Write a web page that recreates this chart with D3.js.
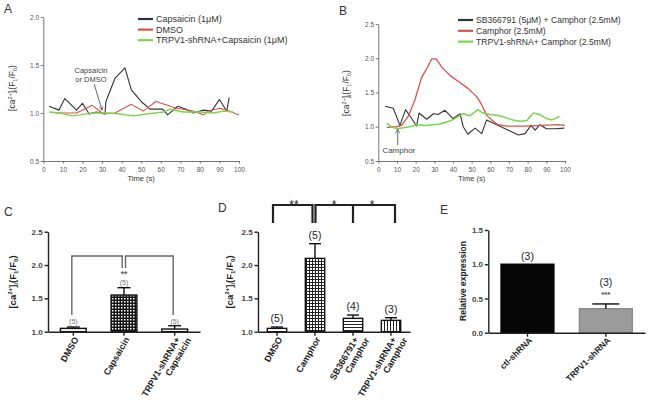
<!DOCTYPE html>
<html><head><meta charset="utf-8">
<script src="https://cdn.jsdelivr.net/npm/d3@7"></script>
<style>body{margin:0;background:#fff}svg{display:block;font-family:Arial,"Liberation Sans",sans-serif}</style>
</head><body><svg id="c" width="651" height="402"></svg>
<script>
// ---------- DATA ----------
const aTicksX = [0,10,20,30,40,50,60,70,80,90,100];
const aTicksY = [0.5,1.0,1.5,2.0];
const bTicksY = [0.5,1.0,1.5,2.0,2.5];
const aSeries = ["Capsaicin (1\u03bcM)","DMSO","TRPV1-shRNA+Capsaicin (1\u03bcM)"];
const aCapsT = [3,8,11,17,20,23.5,27,30,31.5,32,36.6,41.7,45,50,54.5,61,63.5,68.7,73,76.7,81.8,86,90,93.7,95];
const aCapsV = [1.07,1.03,1.15,1.03,1.10,0.99,1.01,1.0,0.99,1.12,1.36,1.47,1.24,1.12,1.04,1.04,0.98,1.07,1.04,1.0,1.03,1.02,1.14,1.02,1.16];
const aDmsoT = [6,17,25,30.7,36.6,45,51,57.6,68,76.7,82,84.3,90,95,100];
const aDmsoV = [1.0,1.0,1.08,0.99,1.0,1.09,1.02,1.12,1.05,1.02,0.98,1.02,1.05,1.02,0.98];
const aShT = [3,8.5,14.5,18.7,24.7,34,39,46,52.8,61.3,64.7,71.6,80,87,92,97];
const aShV = [1.01,1.0,0.97,0.98,1.0,1.0,0.99,0.97,0.99,1.01,1.04,1.01,1.01,1.0,1.02,1.01];

const bSeries = ["SB366791 (5\u03bcM) + Camphor (2.5mM)","Camphor (2.5mM)","TRPV1-shRNA+ Camphor (2.5mM)"];
const bSbT = [3.6,8,11.6,14.6,17.9,20.5,21.8,26,29.5,32,35.7,40,43.8,45.5,48,51.8,55.4,58,64.3,69.6,75,78.6,81.8,84,86.6,90,94.6,99.6];
const bSbV = [1.30,1.27,1.02,1.25,1.12,1.01,1.2,1.11,1.19,1.18,1.24,1.12,1.19,1.0,0.89,0.98,0.9,1.1,1.02,0.95,0.88,0.9,1.02,0.95,1.03,0.97,0.97,0.98];
const bCamT = [4.5,9.8,12.5,16,19.6,23.2,26,28.6,31,34,38.4,42.9,48,52.7,55.4,58,60.7,64,68.8,78.6,87.5,96.4,100];
const bCamV = [0.99,1.0,1.02,1.15,1.39,1.72,1.85,1.99,1.99,1.87,1.75,1.66,1.56,1.44,1.32,1.17,1.1,1.03,1.01,1.01,1.02,1.03,1.02];
const bShT = [4.5,7,10,14,17,21,25.7,29,33,39,45.4,49,53.4,56,59.8,65,72,76,79.5,83,86.5,90,93,97];
const bShV = [1.05,1.0,0.97,0.99,1.0,1.03,1.02,1.03,1.04,1.09,1.19,1.16,1.25,1.2,1.18,1.16,1.1,1.08,1.09,1.2,1.18,1.12,1.1,1.15];

const cTicksY = [1.0,1.5,2.0,2.5];
const cLabels = [["DMSO"],["Capsaicin"],["TRPV1-shRNA+","Capsaicin"]];
const cMeans = [1.05,1.55,1.04];
const cErr = [0.02,0.11,0.05];
const cN = ["(5)","(5)","(5)"];

const dLabels = [["DMSO"],["Camphor"],["SB366791+","Camphor"],["TRPV1-shRNA+","Camphor"]];
const dMeans = [1.05,2.10,1.20,1.17];
const dErr = [0.02,0.22,0.05,0.04];
const dN = ["(5)","(5)","(4)","(3)"];

const eTicksY = [0.0,0.5,1.0,1.5];
const eLabels = ["ctl-shRNA","TRPV1-shRNA"];
const eMeans = [1.0,0.35];
const eErr = [0,0.07];
const eN = ["(3)","(3)"];

// ---------- SETUP ----------
const svg = d3.select("#c");
svg.append("rect").attr("width",651).attr("height",402).attr("fill","#fff");
const defs = svg.append("defs");
let p = defs.append("pattern").attr("id","chk").attr("width",3).attr("height",3).attr("patternUnits","userSpaceOnUse");
p.append("rect").attr("width",3).attr("height",3).attr("fill","#151515");
p.append("rect").attr("x",1).attr("y",1).attr("width",1.5).attr("height",1.5).attr("fill","#fff");
p = defs.append("pattern").attr("id","dots").attr("width",3).attr("height",3).attr("patternUnits","userSpaceOnUse");
p.append("rect").attr("width",3).attr("height",3).attr("fill","#222");
p.append("rect").attr("x",1).attr("y",1).attr("width",2).attr("height",2).attr("fill","#fff");
p = defs.append("pattern").attr("id","hl").attr("width",4).attr("height",3).attr("patternUnits","userSpaceOnUse");
p.append("rect").attr("width",4).attr("height",3).attr("fill","#fff");
p.append("rect").attr("width",4).attr("height",1).attr("fill","#222");
p = defs.append("pattern").attr("id","vl").attr("width",3).attr("height",4).attr("patternUnits","userSpaceOnUse");
p.append("rect").attr("width",3).attr("height",4).attr("fill","#fff");
p.append("rect").attr("width",1).attr("height",4).attr("fill","#222");

function caLabel(x, y, size, weight, color){
  const t = svg.append("text").attr("transform",`translate(${x},${y}) rotate(-90)`)
    .attr("text-anchor","middle").attr("fill",color)
    .style("font-size",size+"px").style("font-weight",weight);
  const s = size*0.65, up = size*0.4, dn = size*0.25;
  t.append("tspan").text("[ca");
  t.append("tspan").attr("dy",-up).style("font-size",s+"px").text("2+");
  t.append("tspan").attr("dy",up).text("]");
  t.append("tspan").attr("dy",dn).style("font-size",s+"px").text("i");
  t.append("tspan").attr("dy",-dn).text("(F");
  t.append("tspan").attr("dy",dn).style("font-size",s+"px").text("1");
  t.append("tspan").attr("dy",-dn).text("/F");
  t.append("tspan").attr("dy",dn).style("font-size",s+"px").text("0");
  t.append("tspan").attr("dy",-dn).text(")");
}
function panelLabel(t,x,y){
  svg.append("text").attr("x",x).attr("y",y).text(t).attr("fill","#333").style("font-size","12px");
}

// ---------- LINE PANELS ----------
function linePanel(cfg){
  const x = d3.scaleLinear().domain([0,100]).range(cfg.xr);
  const y = d3.scaleLinear().domain(cfg.yd).range(cfg.yr);
  const g = svg.append("g");
  const ax = g.append("g").attr("transform",`translate(0,${cfg.yr[0]})`)
    .call(d3.axisBottom(x).tickValues(aTicksX).tickSize(2.5).tickSizeOuter(0));
  const ay = g.append("g").attr("transform",`translate(${cfg.xr[0]},0)`)
    .call(d3.axisLeft(y).tickValues(cfg.yt).tickFormat(d3.format(".1f")).tickSize(2.5).tickSizeOuter(0));
  [ax,ay].forEach(a=>{
    a.selectAll("path,line").attr("stroke","#666").attr("stroke-width",0.9);
    a.selectAll("text").attr("fill","#555").style("font-size","6.5px").style("font-family","Arial,'Liberation Sans',sans-serif");
  });
  ax.selectAll("text").attr("dy","0.9em");
  ay.selectAll("text").attr("dx","0.2em");
  g.append("text").attr("x",(cfg.xr[0]+cfg.xr[1])/2).attr("y",cfg.yr[0]+20).attr("text-anchor","middle")
    .attr("fill","#333").style("font-size","7.5px").text("Time (s)");
  const line = d3.line().x(d=>x(d[0])).y(d=>y(d[1]));
  cfg.series.forEach(s=>{
    g.append("path").datum(d3.zip(s.t,s.v)).attr("d",line).attr("fill","none")
      .attr("stroke",s.c).attr("stroke-width",s.w||1.1).attr("stroke-linejoin","round");
  });
  cfg.names.forEach((n,i)=>{
    const yy = cfg.leg[1] + i*cfg.legStep;
    g.append("line").attr("x1",cfg.leg[0]).attr("x2",cfg.leg[0]+15).attr("y1",yy).attr("y2",yy)
      .attr("stroke",cfg.series[i].c).attr("stroke-width",2.2);
    g.append("text").attr("x",cfg.leg[0]+18).attr("y",yy+3).attr("fill","#333")
      .style("font-size",cfg.legFont+"px").text(n);
  });
  return {x,y,g};
}
const A = linePanel({xr:[43.3,239], yr:[161,17], yd:[0.5,2.0], yt:aTicksY,
  names:aSeries, leg:[138,19], legStep:10.6, legFont:9,
  series:[{t:aCapsT,v:aCapsV,c:"#333"},{t:aDmsoT,v:aDmsoV,c:"#d9524a"},{t:aShT,v:aShV,c:"#77d64f",w:1.4}]});
const B = linePanel({xr:[378.3,565], yr:[161,24], yd:[0.5,2.5], yt:bTicksY,
  names:bSeries, leg:[458,20], legStep:10.8, legFont:8.6,
  series:[{t:bSbT,v:bSbV,c:"#333"},{t:bCamT,v:bCamV,c:"#d9524a",w:1.3},{t:bShT,v:bShV,c:"#77d64f",w:1.5}]});
caLabel(15,88,8.5,"normal","#333");
caLabel(349,93,8.5,"normal","#333");
panelLabel("A",4,13); panelLabel("B",339,15);

// annotations A
svg.append("text").attr("x",91).attr("y",73).attr("text-anchor","middle").attr("fill","#444").style("font-size","7.5px").text("Capsaicin");
svg.append("text").attr("x",91).attr("y",82).attr("text-anchor","middle").attr("fill","#444").style("font-size","7.5px").text("or DMSO");
defs.append("marker").attr("id","arr").attr("viewBox","0 0 10 10").attr("refX",9).attr("refY",5)
  .attr("markerWidth",5).attr("markerHeight",5).attr("orient","auto")
  .append("path").attr("d","M0,0 L10,5 L0,10").attr("fill","none").attr("stroke","#555").attr("stroke-width",1.5);
svg.append("line").attr("x1",A.x(26)).attr("y1",84).attr("x2",A.x(30)).attr("y2",A.y(1.03))
  .attr("stroke","#555").attr("stroke-width",0.9).attr("marker-end","url(#arr)");
// annotation B
svg.append("text").attr("x",B.x(11)).attr("y",153).attr("text-anchor","middle").attr("fill","#444").style("font-size","8px").text("Camphor");
svg.append("line").attr("x1",B.x(10.4)).attr("y1",145).attr("x2",B.x(10.4)).attr("y2",B.y(0.96))
  .attr("stroke","#555").attr("stroke-width",0.9).attr("marker-end","url(#arr)");

// ---------- BAR PANELS ----------
function barPanel(cfg){
  const x = d3.scaleBand().domain(d3.range(cfg.means.length)).range(cfg.xr)
    .paddingInner(cfg.pad).paddingOuter(cfg.pad/2);
  const y = d3.scaleLinear().domain(cfg.yd).range(cfg.yr);
  const g = svg.append("g");
  g.selectAll("rect.bar").data(cfg.means).join("rect").attr("class","bar")
    .attr("x",(d,i)=>x(i)).attr("width",x.bandwidth())
    .attr("y",d=>y(d)).attr("height",d=>y(cfg.yd[0])-y(d))
    .attr("fill",(d,i)=>cfg.fills[i]).attr("stroke",(d,i)=>cfg.strokes?cfg.strokes[i]:"#111").attr("stroke-width",1.4);
  cfg.means.forEach((m,i)=>{
    if(!cfg.err[i]) return;
    const cx = x(i)+x.bandwidth()/2, cw = cfg.cap;
    g.append("line").attr("x1",cx).attr("x2",cx).attr("y1",y(m)).attr("y2",y(m+cfg.err[i])).attr("stroke","#111").attr("stroke-width",1.4);
    g.append("line").attr("x1",cx-cw/2).attr("x2",cx+cw/2).attr("y1",y(m+cfg.err[i])).attr("y2",y(m+cfg.err[i])).attr("stroke","#111").attr("stroke-width",1.4);
  });
  const ax = g.append("g").attr("transform",`translate(0,${cfg.yr[0]})`)
    .call(d3.axisBottom(x).tickFormat("").tickSize(4).tickSizeOuter(0));
  const ay = g.append("g").attr("transform",`translate(${cfg.xr[0]},0)`)
    .call(d3.axisLeft(y).tickValues(cfg.yt).tickFormat(d3.format(".1f")).tickSize(3.5).tickSizeOuter(0));
  [ax,ay].forEach(a=>{
    a.selectAll("path,line").attr("stroke","#222").attr("stroke-width",1.4);
    a.selectAll("text").attr("fill","#444").style("font-size","8px").style("font-weight","bold").style("font-family","Arial,'Liberation Sans',sans-serif");
  });
  ay.selectAll("text").attr("dx","0.15em");
  cfg.labels.forEach((lab,i)=>{
    const cx = x(i)+x.bandwidth()/2;
    const lg = g.append("g").attr("transform",`translate(${cx+3},${cfg.yr[0]+6}) rotate(${cfg.rot})`);
    (Array.isArray(lab)?lab:[lab]).forEach((l,j)=>{
      lg.append("text").attr("x",j?5:0).attr("y",j?cfg.lf*1.45:cfg.lf*0.35)
        .attr("text-anchor","end").attr("fill","#222").style("font-size",cfg.lf+"px").style("font-weight","bold").text(l);
    });
  });
  return {x,y,g,cx:i=>x(i)+x.bandwidth()/2};
}

// C
const C = barPanel({xr:[48,200], pad:0.49, yd:[1.0,2.5], yr:[331.7,231.7], yt:cTicksY,
  means:cMeans, err:cErr, labels:cLabels, fills:["#f2f2f2","url(#chk)","#f4f4f4"], cap:13, rot:-60, lf:9});
cN.forEach((n,i)=>{
  const yy = i===1 ? 285.3 : 324;
  svg.append("text").attr("x",C.cx(i)).attr("y",yy).attr("text-anchor","middle").attr("fill","#777").style("font-size","7px").text(n);
});
svg.append("text").attr("x",C.cx(1)).attr("y",277).attr("text-anchor","middle").attr("fill","#666").style("font-size","8.5px").style("font-weight","bold").text("**");
const brC = d3.path();
brC.moveTo(C.cx(0)-1.5,315); brC.lineTo(C.cx(0)-1.5,256); brC.lineTo(C.cx(1)-1.8,256); brC.lineTo(C.cx(1)-1.8,268);
brC.moveTo(C.cx(1)+1.5,268); brC.lineTo(C.cx(1)+1.5,256); brC.lineTo(C.cx(2)-1.5,256); brC.lineTo(C.cx(2)-1.5,315);
svg.append("path").attr("d",brC.toString()).attr("fill","none").attr("stroke","#666").attr("stroke-width",1.4);
caLabel(16,282,9.5,"bold","#222");
panelLabel("C",4,216);

// D
const D = barPanel({xr:[258,410], pad:0.49, yd:[1.0,2.5], yr:[331.7,231.7], yt:cTicksY,
  means:dMeans, err:dErr, labels:dLabels, fills:["#fff","url(#dots)","url(#hl)","url(#vl)"], cap:12, rot:-60, lf:9});
dN.forEach((n,i)=>{
  svg.append("text").attr("x",D.cx(i)).attr("y",D.y(dMeans[i]+dErr[i])-5).attr("text-anchor","middle")
    .attr("fill","#222").style("font-size","10.5px").text(n);
});
const brD = d3.path();
brD.moveTo(D.cx(0)-4,223); brD.lineTo(D.cx(0)-4,205); brD.lineTo(D.cx(1)-2.5,205); brD.lineTo(D.cx(1)-2.5,223);
brD.moveTo(D.cx(1)+0.5,223); brD.lineTo(D.cx(1)+0.5,205); brD.lineTo(D.cx(3)+4,205); brD.lineTo(D.cx(3)+4,223);
brD.moveTo(D.cx(2),205); brD.lineTo(D.cx(2),223);
svg.append("path").attr("d",brD.toString()).attr("fill","none").attr("stroke","#222").attr("stroke-width",2.2);
[["**",(D.cx(0)+D.cx(1))/2-2],["*",(D.cx(1)+D.cx(2))/2],["*",(D.cx(2)+D.cx(3))/2]].forEach(s=>{
  svg.append("text").attr("x",s[1]).attr("y",209).attr("text-anchor","middle").attr("fill","#222")
    .style("font-size","12px").text(s[0]);
});
caLabel(233,282,9.5,"bold","#222");
panelLabel("D",218,212);

// E
const E = barPanel({xr:[488.3,645], pad:0.325, yd:[0,1.5], yr:[332.7,230], yt:eTicksY,
  means:eMeans, err:eErr, labels:eLabels, fills:["#050505","#9c9c9c"], strokes:["#050505","#888"], cap:27, rot:-45, lf:8.5});
svg.append("text").attr("x",E.cx(0)).attr("y",260).attr("text-anchor","middle").attr("fill","#222").style("font-size","10.5px").text(eN[0]);
svg.append("text").attr("x",E.cx(1)).attr("y",286).attr("text-anchor","middle").attr("fill","#222").style("font-size","10.5px").text(eN[1]);
svg.append("text").attr("x",E.cx(1)).attr("y",297).attr("text-anchor","middle").attr("fill","#444").style("font-size","8px").style("font-weight","bold").text("***");
svg.append("text").attr("transform","translate(466,281) rotate(-90)").attr("text-anchor","middle")
  .attr("fill","#222").style("font-size","8.5px").style("font-weight","bold").text("Relative expression");
panelLabel("E",440,214);
</script></body></html>
